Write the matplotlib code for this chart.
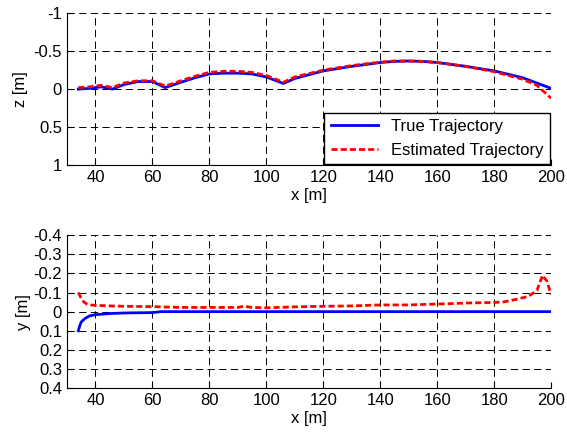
import matplotlib.pyplot as plt
import matplotlib.ticker as mticker

plt.rcParams['font.family'] = ['Liberation Sans', 'DejaVu Sans']
plt.rcParams['font.size'] = 12

# top panel: z along the track
x_z_true = [34, 38, 42, 46, 50, 55, 60, 64.5, 70, 75, 80, 85, 90, 95, 100, 106,
            110, 120, 130, 140, 145, 150, 155, 160, 170, 180, 190, 195, 200]
z_true = [0.0, -0.01, -0.03, 0.0, -0.06, -0.1, -0.1, -0.02, -0.09, -0.15, -0.2, -0.21,
          -0.21, -0.2, -0.16, -0.075, -0.14, -0.24, -0.3, -0.35, -0.365, -0.37, -0.365,
          -0.35, -0.3, -0.24, -0.15, -0.08, -0.01]
x_z_est = [34, 38, 42, 46, 50, 55, 60, 64.5, 70, 75, 80, 85, 90, 95, 100, 106,
           110, 120, 130, 140, 145, 150, 155, 160, 170, 180, 190, 195, 200]
z_est = [-0.02, -0.03, -0.05, -0.02, -0.08, -0.11, -0.11, -0.04, -0.11, -0.17, -0.22, -0.235,
         -0.235, -0.22, -0.18, -0.09, -0.16, -0.25, -0.31, -0.355, -0.37, -0.37, -0.365,
         -0.35, -0.3, -0.23, -0.13, -0.05, 0.12]

# bottom panel: y along the track
x_y_true = [34, 34.5, 35, 36, 37, 38, 40, 45, 50, 55, 60, 63, 70, 100, 150, 200]
y_true = [0.1, 0.075, 0.055, 0.04, 0.03, 0.022, 0.016, 0.01, 0.007, 0.006, 0.005, 0.0,
          0.0, 0.0, 0.0, 0.0]
x_y_est = [34, 35, 36, 37, 38, 40, 45, 50, 60, 70, 80, 90, 92, 95, 100, 110, 120, 130,
           140, 150, 160, 165, 170, 180, 183, 188, 192, 195, 197, 198.5, 200]
y_est = [-0.1, -0.07, -0.05, -0.04, -0.035, -0.033, -0.03, -0.028, -0.026, -0.022, -0.022,
         -0.022, -0.028, -0.022, -0.02, -0.025, -0.028, -0.03, -0.035, -0.035, -0.04, -0.042,
         -0.045, -0.048, -0.05, -0.065, -0.08, -0.11, -0.19, -0.16, -0.09]

fig = plt.figure(figsize=(5.67, 4.38), dpi=100)
ax1 = fig.add_axes([0.118, 0.623, 0.854, 0.347])
ax2 = fig.add_axes([0.118, 0.114, 0.854, 0.349])

for ax in (ax1, ax2):
    ax.set_xlim(30, 200)
    ax.set_xticks([40, 60, 80, 100, 120, 140, 160, 180, 200])
    ax.grid(True, color='black', linestyle=(0, (7.5, 4.5)), linewidth=0.7)
    ax.spines['top'].set_visible(False)
    ax.spines['right'].set_visible(False)
    ax.tick_params(direction='in', length=4, width=0.8, labelsize=12)
    ax.set_xlabel('x [m]', fontsize=12, labelpad=2)

fmt = mticker.FuncFormatter(lambda v, p: '%g' % v if v != 0 else '0')
red_dash = (0, (2.2, 1.1))

ax1.plot(x_z_true, z_true, '-', color='#0000ff', linewidth=2, label='True Trajectory')
ax1.plot(x_z_est, z_est, linestyle=red_dash, color='#ff0000', linewidth=2,
         label='Estimated Trajectory')
ax1.set_ylim(1, -1)
ax1.set_yticks([-1, -0.5, 0, 0.5, 1])
ax1.yaxis.set_major_formatter(fmt)
ax1.set_ylabel('z [m]', fontsize=12)
ax1.legend(loc='lower right', fancybox=False, edgecolor='black', framealpha=1,
           borderaxespad=0.05, handlelength=2.8, fontsize=12)

ax2.plot(x_y_true, y_true, '-', color='#0000ff', linewidth=2)
ax2.plot(x_y_est, y_est, linestyle=red_dash, color='#ff0000', linewidth=2)
ax2.set_ylim(0.4, -0.4)
ax2.set_yticks([-0.4, -0.3, -0.2, -0.1, 0, 0.1, 0.2, 0.3, 0.4])
ax2.yaxis.set_major_formatter(fmt)
ax2.set_ylabel('y [m]', fontsize=12, labelpad=2)

fig.savefig('out.png', dpi=100)
